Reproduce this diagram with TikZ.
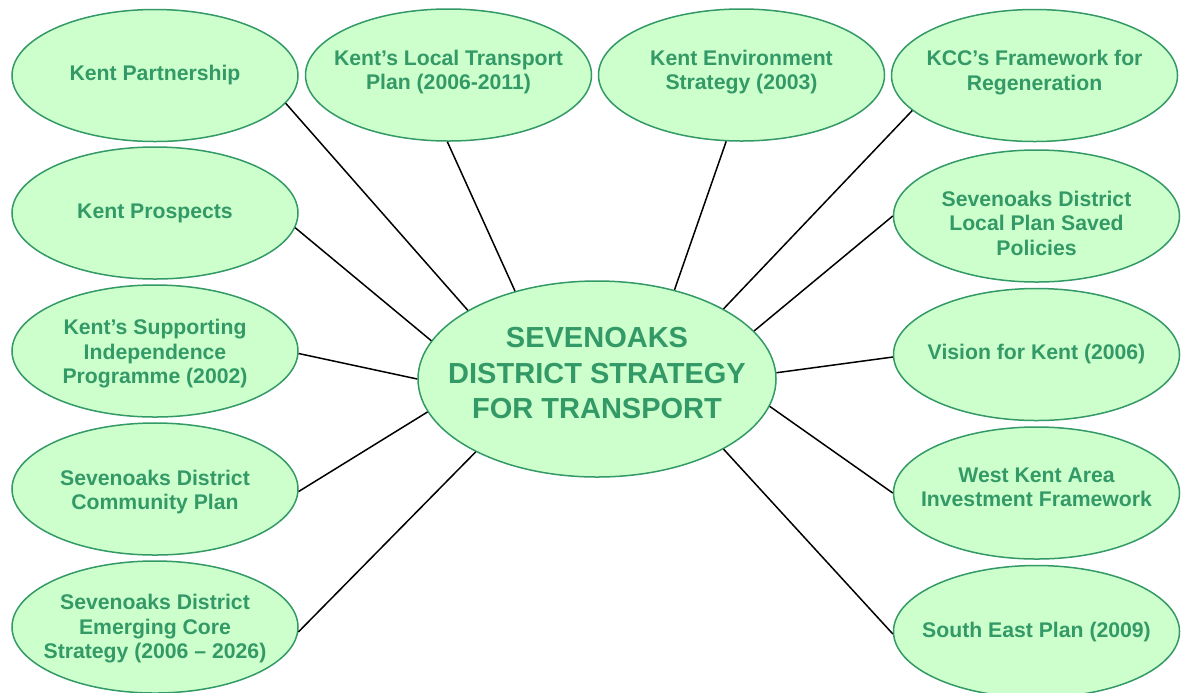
\documentclass[tikz,border=0pt]{standalone}
\usepackage{fontspec}
\setmainfont{Liberation Sans}
\usetikzlibrary{shapes.geometric}

\definecolor{leafgreen}{HTML}{339966}
\definecolor{mint}{HTML}{CCFFCC}

\begin{document}
\begin{tikzpicture}[x=0.5pt, y=-0.5pt,
    bubble/.style={ellipse, draw=leafgreen, fill=mint, line width=0.75pt,
      text=leafgreen, align=center, inner sep=-20pt,
      minimum width=143pt, minimum height=66pt,
      font=\bfseries\fontsize{10.6}{12.25}\selectfont},
    hub/.style={bubble, minimum width=179pt, minimum height=98pt,
      font=\bfseries\fontsize{14.5}{17.75}\selectfont},
    link/.style={draw=black, line width=0.75pt}]
      \useasboundingbox (0,0) rectangle (1181,692);

      % Draw the strategy in the middle
      \node[hub, text depth=6pt] (hub) at (597,379)
        {SEVENOAKS\\DISTRICT STRATEGY\\FOR TRANSPORT};

      % Draw the top row
      \node[bubble] (partner) at (155,75.5) {Kent Partnership};
      \node[bubble, text depth=5.2pt] (ltp) at (448.5,75) {Kent’s Local Transport\\Plan (2006-2011)};
      \node[bubble, text depth=5.2pt] (environ) at (741.5,75) {Kent Environment\\Strategy (2003)};
      \node[bubble, text depth=5.2pt] (regen) at (1034.5,75.5) {KCC’s Framework for\\Regeneration};

      % Draw the left column
      \node[bubble] (prospects) at (155,213) {Kent Prospects};
      \node[bubble, text height=35.2pt] (support) at (155,351) {Kent’s Supporting\\Independence\\Programme (2002)};
      \node[bubble, text height=23pt] (community) at (155,489) {Sevenoaks District\\Community Plan};
      \node[bubble, text height=34.2pt] (core) at (155,627) {Sevenoaks District\\Emerging Core\\Strategy (2006 – 2026)};

      % Draw the right column
      \node[bubble, text height=39.2pt] (localplan) at (1036.5,216) {Sevenoaks District\\Local Plan Saved\\Policies};
      \node[bubble] (vision) at (1036.5,354.5) {Vision for Kent (2006)};
      \node[bubble, text depth=6pt] (westkent) at (1036.5,493) {West Kent Area\\Investment Framework};
      \node[bubble] (southeast) at (1036.5,631.5) {South East Plan (2009)};

      % Join each document to the strategy
      \draw[link] (partner.-12.5) -- (hub.152);
      \draw[link] (ltp.-91.3) -- (hub.133);
      \draw[link] (environ.-103.2) -- (hub.49.7);
      \draw[link] (regen.-164.2) -- (hub.29.5);
      \draw[link] (prospects.-6.6) -- (hub.167.6);
      \draw[link] (support.-1.2) -- (hub.180);
      \draw[link] (community.-1.2) -- (hub.-169.6);
      \draw[link] (core.-2) -- (hub.-149.9);
      \draw[link] (localplan.180) -- (hub.17.6);
      \draw[link] (vision.181.4) -- (hub.2.6);
      \draw[link] (westkent.180) -- (hub.-9.3);
      \draw[link] (southeast.181.4) -- (hub.-29.4);
    \end{tikzpicture}
\end{document}
